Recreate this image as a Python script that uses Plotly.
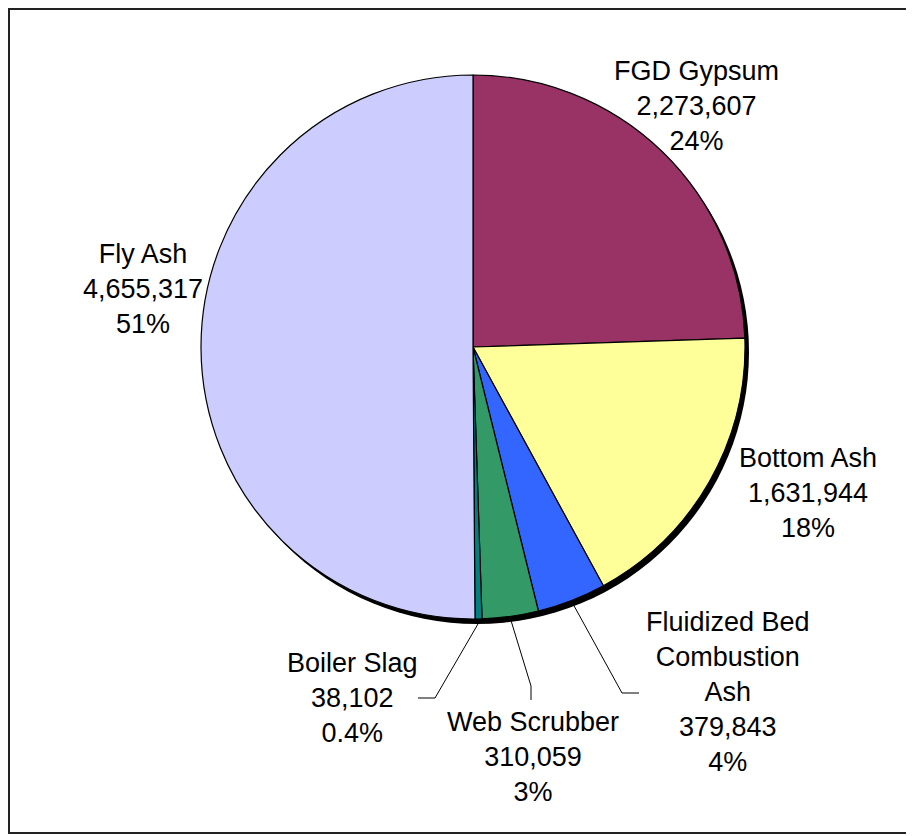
import math
import plotly.graph_objects as go

# ---- data ----
categories = ["FGD Gypsum", "Bottom Ash", "Fluidized Bed Combustion Ash",
              "Web Scrubber", "Boiler Slag", "Fly Ash"]
values = [2273607, 1631944, 379843, 310059, 38102, 4655317]
pct_labels = ["24%", "18%", "4%", "3%", "0.4%", "51%"]
label_names = ["FGD Gypsum", "Bottom Ash", "Fluidized Bed<br>Combustion<br>Ash",
               "Web Scrubber", "Boiler Slag", "Fly Ash"]
colors = ["#993366", "#FFFF99", "#3366FF", "#339966", "#008080", "#CCCCFF"]

W, H = 914, 836
PAGE_OFF = 8                       # page offset of the figure in the window
CX, CY, R = 473, 347, 272          # pie centre / radius in window pixels
SHADOW_DX, SHADOW_DY = 4, 5


def px(x):
    return (x - PAGE_OFF) / W


def py(y):
    return 1 - (y - PAGE_OFF) / H


def dom(cx, cy, r):
    return dict(x=[px(cx - r), px(cx + r)], y=[py(cy + r), py(cy - r)])


fig = go.Figure()

# shadow
fig.add_trace(go.Pie(values=[1], marker=dict(colors=["#000000"]),
                     textinfo="none", hoverinfo="skip", sort=False,
                     domain=dom(CX + SHADOW_DX, CY + SHADOW_DY, R),
                     showlegend=False))

# main pie
fig.add_trace(go.Pie(labels=categories, values=values, sort=False,
                     direction="clockwise", rotation=0,
                     marker=dict(colors=colors, line=dict(color="#000000", width=1.2)),
                     textinfo="none", domain=dom(CX, CY, R), showlegend=False))

# ---- labels ----
FONT = dict(family="Liberation Sans, Arial, sans-serif", size=27, color="#000000")
label_pos = {  # block centres (layout)
    "FGD Gypsum": (696, 106),
    "Bottom Ash": (808, 493),
    "Fluidized Bed Combustion Ash": (728, 692),
    "Web Scrubber": (533, 757),
    "Boiler Slag": (352, 698),
    "Fly Ash": (143, 289),
}
for cat, name, v, p in zip(categories, label_names, values, pct_labels):
    x, y = label_pos[cat]
    fig.add_annotation(x=px(x), y=py(y), xref="paper", yref="paper",
                       text=f"{name}<br>{v:,}<br>{p}", showarrow=False,
                       xanchor="center", yanchor="middle", align="center",
                       font=FONT)

# ---- leader lines (start point from slice mid-angle) ----
total = sum(values)
cum = 0
mid_angles = {}
for cat, v in zip(categories, values):
    mid_angles[cat] = (cum + v / 2) / total * 360
    cum += v

leaders = {  # elbow and end point near label (layout)
    "Boiler Slag": [(435, 698), (418, 698)],
    "Web Scrubber": [(531, 686), (531, 700)],
    "Fluidized Bed Combustion Ash": [(622, 693), (639, 693)],
}
for cat, pts in leaders.items():
    a = math.radians(mid_angles[cat])
    r0 = R + 4
    sx, sy = CX + r0 * math.sin(a), CY - r0 * math.cos(a)
    path_pts = [(sx, sy)] + pts
    path = "M " + " L ".join(f"{px(x)},{py(y)}" for x, y in path_pts)
    fig.add_shape(type="path", path=path, xref="paper", yref="paper",
                  line=dict(color="#000000", width=1))

# border
fig.add_shape(type="rect", x0=px(9), y0=py(833), x1=px(W + 20), y1=py(9),
              xref="paper", yref="paper", line=dict(color="#222222", width=2))

fig.update_layout(width=W, height=H, margin=dict(l=0, r=0, t=0, b=0),
                  paper_bgcolor="#FFFFFF", plot_bgcolor="#FFFFFF",
                  showlegend=False)

fig.write_html("out.html")
